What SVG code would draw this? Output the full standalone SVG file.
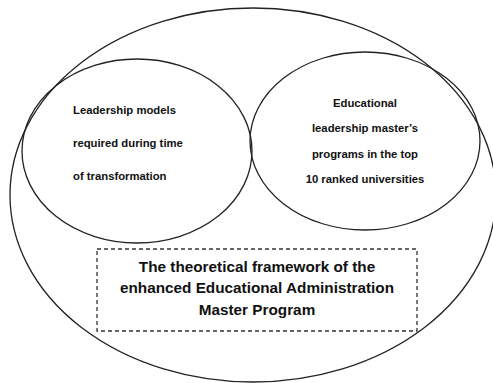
<svg xmlns="http://www.w3.org/2000/svg" width="493" height="383" viewBox="0 0 493 383">
<style>
.sh{fill:none;stroke:#222;stroke-width:1.3}
.t{font-family:"Liberation Sans",Arial,sans-serif;font-weight:bold;fill:#111}
.s{font-size:11.3px}
.b{font-size:15.3px}
</style>
<rect width="493" height="383" fill="#fff"/>
<g id="outer"><ellipse class="sh" cx="253" cy="195" rx="243" ry="187"/></g>
<g id="left">
<ellipse class="sh" cx="137" cy="151" rx="115" ry="92"/>
<text class="t s" x="73" y="114">Leadership models</text>
<text class="t s" x="73" y="147">required during  time</text>
<text class="t s" x="73" y="180">of transformation</text>
</g>
<g id="right">
<ellipse class="sh" cx="365" cy="141" rx="115" ry="89"/>
<text class="t s" x="365" y="107" text-anchor="middle">Educational</text>
<text class="t s" x="365" y="132" text-anchor="middle">leadership master’s</text>
<text class="t s" x="365" y="158" text-anchor="middle">programs  in the top</text>
<text class="t s" x="365" y="183" text-anchor="middle">10 ranked universities</text>
</g>
<g id="framework">
<rect x="97" y="249" width="320" height="82" fill="none" stroke="#333" stroke-width="1.3" stroke-dasharray="4,3"/>
<text class="t b" x="257" y="272" text-anchor="middle">The theoretical framework of the</text>
<text class="t b" x="257" y="293" text-anchor="middle">enhanced Educational Administration</text>
<text class="t b" x="257" y="315" text-anchor="middle">Master Program</text>
</g>
<g id="connectors"></g>
</svg>
